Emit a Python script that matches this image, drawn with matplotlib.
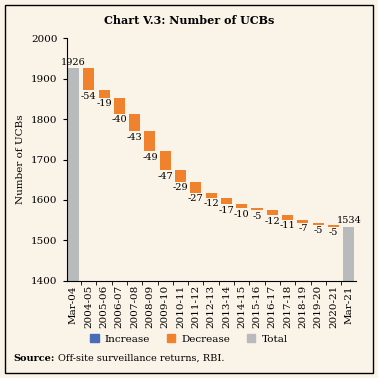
import matplotlib
matplotlib.use("Agg")
import matplotlib.pyplot as plt
from matplotlib.patches import Rectangle, Patch
from matplotlib.transforms import offset_copy
import numpy as np

# data
categories = ["Mar-04", "2004-05", "2005-06", "2006-07", "2007-08", "2008-09",
              "2009-10", "2010-11", "2011-12", "2012-13", "2013-14", "2014-15",
              "2015-16", "2016-17", "2017-18", "2018-19", "2019-20", "2020-21",
              "Mar-21"]
start_total = 1926
changes = [-54, -19, -40, -43, -49, -47, -29, -27, -12, -17, -10, -5, -12,
           -11, -7, -5, -5]
end_total = 1534

BG = "#FAF3E8"
ORANGE = "#F0822E"
GREY = "#B9BABC"
BLUE = "#4A6CB8"

plt.rcParams.update({"font.family": "DejaVu Serif", "font.size": 7})

fig = plt.figure(figsize=(3.78, 3.78), dpi=100, facecolor=BG)
ax = fig.add_axes([0.176, 0.257, 0.767, 0.642], facecolor=BG)

x = np.arange(len(categories))
w = 0.72

# totals
ax.bar(x[0], start_total - 1400, bottom=1400, width=w, color=GREY)
ax.bar(x[-1], end_total - 1400, bottom=1400, width=w, color=GREY)
ax.text(x[0], start_total + 3, str(start_total), ha="center", va="bottom", fontsize=7)
ax.text(x[-1], end_total + 3, str(end_total), ha="center", va="bottom", fontsize=7)

# decreases
level = start_total
for i, c in enumerate(changes, start=1):
    bottom = level + c
    ax.bar(x[i], -c, bottom=bottom, width=w, color=ORANGE)
    ax.text(x[i], bottom - 4, str(c), ha="center", va="top", fontsize=7)
    level = bottom

ax.set_ylim(1400, 2000)
ax.set_xlim(-0.45, len(categories) - 0.5)
ax.set_yticks(range(1400, 2001, 100))
ax.set_xticks(x)
ax.set_xticklabels(categories, rotation=90)
ax.set_xticks(np.arange(0.5, len(categories) - 0.5, 1), minor=True)
ax.tick_params(axis="x", which="major", length=0, pad=3, labelsize=7.5)
ax.tick_params(axis="x", which="minor", length=3)
ax.tick_params(axis="y", length=3, labelsize=7.5)
ax.spines["top"].set_visible(False)
ax.spines["right"].set_visible(False)
ax.set_ylabel("Number of UCBs", fontsize=7.5)

fig.text(0.5, 0.945, "Chart V.3: Number of UCBs", ha="center", va="center",
         fontsize=8, fontweight="bold")

handles = [Patch(color=BLUE, label="Increase"),
           Patch(color=ORANGE, label="Decrease"),
           Patch(color=GREY, label="Total")]
fig.legend(handles=handles, loc="center", bbox_to_anchor=(0.5, 0.103), ncol=3,
           frameon=False, fontsize=7.5, handlelength=0.8, handleheight=0.8,
           columnspacing=1.6, handletextpad=0.6)

src = fig.text(0.035, 0.052, "Source:", ha="left", va="center", fontsize=7,
               fontweight="bold")
fig.canvas.draw()
bb = src.get_window_extent().transformed(fig.transFigure.inverted())
fig.text(bb.x1 + 0.008, 0.052, "Off-site surveillance returns, RBI.", ha="left",
         va="center", fontsize=7)

fig.patches.append(Rectangle((0.012, 0.012), 0.976, 0.976, transform=fig.transFigure,
                             fill=False, edgecolor="black", linewidth=1.0))

fig.savefig("out.png", dpi=100, facecolor=BG)
